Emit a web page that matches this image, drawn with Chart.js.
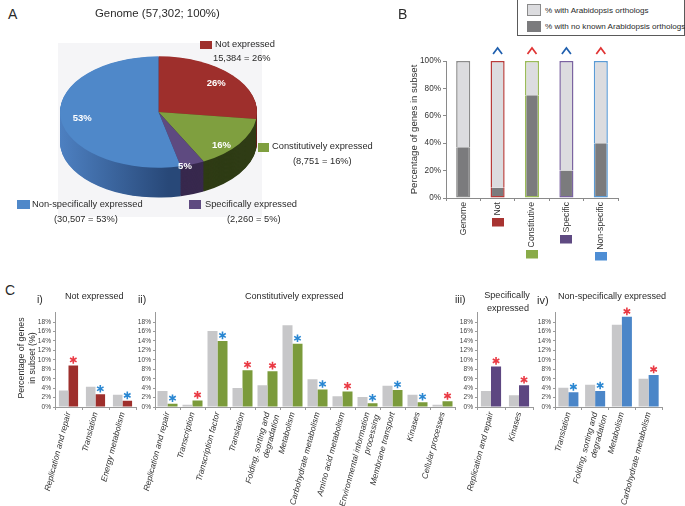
<!DOCTYPE html>
<html><head><meta charset="utf-8">
<script src="https://cdn.jsdelivr.net/npm/chart.js@4.4.1/dist/chart.umd.min.js"></script>
<style>
html,body{margin:0;padding:0;background:#fff;}
#root{position:relative;width:685px;height:506px;overflow:hidden;font-family:"Liberation Sans",Arial,sans-serif;color:#2a2a2a;}
.t{position:absolute;white-space:nowrap;line-height:1;z-index:3;}
.sw{position:absolute;z-index:3;box-sizing:border-box;}
canvas{position:absolute;z-index:1;}
</style></head><body><div id="root"></div>
<script>
// ---------------- DATA ----------------
// Panel A (pie)
const pieLabels = ['Not expressed','Constitutively expressed','Specifically expressed','Non-specifically expressed'];
const pieCounts = [15384, 8751, 2260, 30507];
const pieInnerLabels = ['26%','16%','5%','53%'];

// Panel B (stacked %)
const bCategories = ['Genome','Not','Constitutive','Specific','Non-specific'];
const bNoOrtholog = [37, 7.5, 75, 20, 40];
const bWithOrtholog = [63, 92.5, 25, 80, 60];
const bSig = [null, 'down', 'up', 'down', 'up'];

// Panel C i) Not expressed
const c1Categories = ['Replication and repair','Translation','Energy metabolism'];
const c1Genome = [3.5, 4.3, 2.6];
const c1Subset = [8.8, 2.7, 1.3];
const c1Sig = ['up','down','down'];

// Panel C ii) Constitutively expressed
const c2Categories = ['Replication and repair','Transcription','Transcription factor','Translation',['Folding, sorting and','degradation'],'Metabolism','Carbohydrate metabolism','Amino acid metabolism',['Environmental information','processing'],'Membrane transport','Kinases','Cellular processes'];
const c2Genome = [3.4, 0.5, 16.1, 4.0, 4.6, 17.3, 5.9, 2.3, 2.1, 4.5, 2.6, 0.5];
const c2Subset = [0.7, 1.4, 14.0, 7.8, 7.6, 13.4, 3.7, 3.3, 0.8, 3.6, 1.0, 1.2];
const c2Sig = ['down','up','down','up','up','down','down','up','down','down','down','up'];

// Panel C iii) Specifically expressed
const c3Categories = ['Replication and repair','Kinases'];
const c3Genome = [3.4, 2.5];
const c3Subset = [8.6, 4.6];
const c3Sig = ['up','up'];

// Panel C iv) Non-specifically expressed
const c4Categories = ['Translation',['Folding, sorting and','degradation'],'Metabolism','Carbohydrate metabolism'];
const c4Genome = [4.1, 4.7, 17.4, 6.0];
const c4Subset = [3.1, 3.4, 19.1, 6.8];
const c4Sig = ['down','down','up','up'];

const cTickMax = 20, cTickStep = 2;

// ---------------- STYLE ----------------
const FONT = '"Liberation Sans", Arial, sans-serif';
const RED_SIG = '#ea3a44', BLUE_SIG = '#2a87d2';
const COL_NOT = '#9e2f2c', COL_CON = '#7b9b3b', COL_SPE = '#5d4681', COL_NON = '#4b86c8';
const GREY_BAR = '#c7c7c9';

Chart.defaults.font.family = FONT;
Chart.defaults.animation = false;
Chart.defaults.responsive = false;
Chart.defaults.devicePixelRatio = 1;
Chart.defaults.events = [];
Chart.defaults.plugins.legend.display = false;
Chart.defaults.plugins.tooltip.enabled = false;

const root = document.getElementById('root');
function makeCanvas(left, top, w, h){
  const c = document.createElement('canvas');
  c.width = w; c.height = h;
  c.style.left = left+'px'; c.style.top = top+'px';
  c.style.width = w+'px'; c.style.height = h+'px';
  root.appendChild(c); return c;
}
function txt(s, x, yc, size, o={}){
  const d = document.createElement('div'); d.className='t'; d.textContent = s;
  d.style.fontSize = size+'px'; d.style.top = (yc - size/2)+'px'; d.style.left = x+'px';
  if (o.center) d.style.transform = 'translateX(-50%)';
  if (o.color) d.style.color = o.color;
  root.appendChild(d); return d;
}
function vtxt(s, xc, yc, size){
  const d = document.createElement('div'); d.className='t'; d.textContent = s;
  d.style.fontSize = size+'px'; d.style.left = xc+'px'; d.style.top = yc+'px';
  d.style.transform = 'translate(-50%,-50%) rotate(-90deg)';
  root.appendChild(d); return d;
}
function box(x,y,w,h,bg,border){
  const d = document.createElement('div'); d.className='sw';
  Object.assign(d.style,{left:x+'px',top:y+'px',width:w+'px',height:h+'px',background:bg});
  if (border) d.style.border = border;
  root.appendChild(d); return d;
}

// ---------------- PANEL A ----------------
box(58, 43, 204, 174, '#f5f5f7').style.zIndex = 0;
const PIE_SQUASH = 0.565, PIE_DEPTH = 30;
const pieColors = [COL_NOT, '#7f9f3f', '#5e4a80', '#4f88c9'];
const pieSideColors = ['#6a1f1d', '#2f3c15', '#38294e', null];
const pie3d = {
  id: 'pie3d',
  beforeDatasetsDraw(chart){
    const ctx = chart.ctx, meta = chart.getDatasetMeta(0);
    const a0 = meta.data[0], cx = a0.x, cy = a0.y, R = a0.outerRadius;
    ctx.save();
    ctx.translate(cx, cy); ctx.scale(1, PIE_SQUASH); ctx.translate(-cx, -cy);
    const blueGrad = ctx.createLinearGradient(cx - R, 0, cx + R*0.1, 0);
    blueGrad.addColorStop(0, '#4d80c1'); blueGrad.addColorStop(1, '#284878');
    const depth = Math.round(PIE_DEPTH / PIE_SQUASH);
    for (let k = depth; k >= 1; k--) {
      meta.data.forEach((arc, i) => {
        ctx.beginPath();
        ctx.moveTo(cx, cy + k);
        ctx.arc(cx, cy + k, arc.outerRadius, arc.startAngle, arc.endAngle);
        ctx.closePath();
        ctx.fillStyle = pieSideColors[i] || blueGrad;
        ctx.fill();
      });
    }
  },
  afterDatasetsDraw(chart){
    const ctx = chart.ctx; ctx.restore();
    const meta = chart.getDatasetMeta(0);
    ctx.save();
    ctx.fillStyle = '#ffffff'; ctx.font = 'bold 9.5px ' + FONT;
    ctx.textAlign = 'center'; ctx.textBaseline = 'middle';
    meta.data.forEach((arc, i) => {
      const mid = (arc.startAngle + arc.endAngle)/2, r = arc.outerRadius*0.78;
      const persp = PIE_DEPTH * 0.5 * Math.max(0, Math.sin(mid));
      ctx.fillText(pieInnerLabels[i], arc.x + Math.cos(mid)*r, arc.y + Math.sin(mid)*r*PIE_SQUASH + persp);
    });
    ctx.restore();
  }
};
new Chart(makeCanvas(40, 0, 240, 240), {
  type: 'pie',
  data: { labels: pieLabels, datasets: [{ data: pieCounts, backgroundColor: pieColors, borderWidth: 0 }] },
  options: {
    animation: false,
    animations: false,
    layout: { padding: { left: 20, right: 23, top: 13.5, bottom: 29.5 } }
  },
  plugins: [pie3d]
});

txt('A', 8, 14, 14);
txt('Genome (57,302; 100%)', 95, 14, 11.4);
box(200, 41, 12, 8, COL_NOT);
txt('Not expressed', 215, 45, 9.3);
txt('15,384 = 26%', 213, 58.5, 9.3);
box(258, 143, 11, 9, '#7f9f3f');
txt('Constitutively expressed', 272, 147, 9.3);
txt('(8,751 = 16%)', 293, 162, 9.3);
box(17, 200, 13, 9, '#4f88c9');
txt('Non-specifically expressed', 32, 205, 9.3);
txt('(30,507 = 53%)', 54, 219.5, 9.3);
box(189, 200, 12, 9, '#5e4a80');
txt('Specifically expressed', 205, 205, 9.3);
txt('(2,260 = 5%)', 227, 219.5, 9.3);

// ---------------- PANEL B ----------------
txt('B', 398, 14, 14);
box(517, -1, 168, 37, '#fff', '1px solid #5a5a5a');
box(527, 4, 14, 12, '#dcdcdf', '1px solid #8a8a8a');
box(527, 21, 14, 11, '#7b7b7d');
txt('% with Arabidopsis orthologs', 545, 11, 8.1);
txt('% with no known Arabidopsis orthologs', 545, 27, 8.1);

const bBorder = ['#8c8c8c', '#b83c3a', '#9bbb59', '#7b64a1', '#5b9bd5'];
const bSwatch = [null, '#a83331', '#89ab48', '#5f4a82', '#4d8dd4'];
const B_LABEL_SIZE = 8.7;
const caretPlugin = {
  id: 'caret',
  afterDatasetsDraw(chart){
    const ctx = chart.ctx, meta = chart.getDatasetMeta(1);
    bSig.forEach((s, i) => {
      if (!s) return;
      const b = meta.data[i];
      ctx.save();
      ctx.strokeStyle = s === 'up' ? '#e03434' : '#1f5fae';
      ctx.lineWidth = 1.7;
      ctx.beginPath();
      ctx.moveTo(b.x - 4.5, b.y - 7); ctx.lineTo(b.x, b.y - 13); ctx.lineTo(b.x + 4.5, b.y - 7);
      ctx.stroke(); ctx.restore();
    });
  },
  afterDraw(chart){
    const ctx = chart.ctx, sx = chart.scales.x;
    ctx.save();
    ctx.font = B_LABEL_SIZE + 'px ' + FONT;
    bCategories.forEach((c, i) => {
      if (!bSwatch[i]) return;
      const x = sx.getPixelForValue(i);
      const w = ctx.measureText(c).width;
      const y = sx.top + 4 + w + 2.5;
      ctx.fillStyle = bSwatch[i];
      ctx.fillRect(Math.round(x - 6), Math.round(y), 12, 8.5);
    });
    ctx.restore();
  }
};
new Chart(makeCanvas(405, 40, 217, 235), {
  type: 'bar',
  data: { labels: bCategories, datasets: [
    { data: bNoOrtholog, backgroundColor: '#7b7b7d', borderColor: bBorder,
      borderWidth: { left: 1.5, right: 1.5, bottom: 1.5, top: 0 }, borderSkipped: false,
      stack: 's', barPercentage: 0.41, categoryPercentage: 1 },
    { data: bWithOrtholog, backgroundColor: '#dcdcdf', borderColor: bBorder,
      borderWidth: { left: 1.5, right: 1.5, top: 1.5, bottom: 0 }, borderSkipped: false,
      stack: 's', barPercentage: 0.41, categoryPercentage: 1 }
  ]},
  options: {
    layout: { padding: { top: 21, right: 4, left: 0, bottom: 0 } },
    scales: {
      x: { stacked: true,
        grid: { display: true, drawOnChartArea: false, offset: true, tickLength: 3, color: '#8a8a8a' },
        border: { color: '#8a8a8a' },
        ticks: { autoSkip: false, minRotation: 90, maxRotation: 90, padding: 1, color: '#333', font: { size: B_LABEL_SIZE } },
        afterFit(s){ s.height = 77; } },
      y: { stacked: true, min: 0, max: 100,
        ticks: { stepSize: 20, callback: v => v + '%', color: '#333', font: { size: 8.2 }, padding: 2 },
        grid: { display: true, drawOnChartArea: false, tickLength: 3, color: '#8a8a8a' },
        border: { color: '#8a8a8a' },
        title: { display: true, text: 'Percentage of genes in subset', color: '#333', font: { size: 9.6 }, padding: { top: 4, bottom: 0 } },
        afterFit(s){ s.width = 41; } }
    }
  },
  plugins: [caretPlugin]
});

// ---------------- PANEL C ----------------
txt('C', 5, 290, 14);
txt('i)', 37, 299, 10.5);
txt('Not expressed', 65, 297, 9.1);
txt('ii)', 138, 299, 10.5);
txt('Constitutively expressed', 245, 297, 9.1);
txt('iii)', 455, 299, 10.5);
txt('Specifically', 507, 295.5, 9.1, { center: true });
txt('expressed', 508, 309, 9.1, { center: true });
txt('iv)', 537, 300, 11);
txt('Non-specifically expressed', 558, 296.5, 9.1);
vtxt('Percentage of genes', 21, 358, 8.8);
vtxt('in subset (%)', 32, 358, 8.8);

function drawStar(ctx, x, y, r, color){
  ctx.save(); ctx.strokeStyle = color; ctx.lineWidth = 1.6;
  ctx.beginPath();
  for (const a of [90, 30, 150]) {
    const rad = a*Math.PI/180, dx = Math.cos(rad)*r, dy = Math.sin(rad)*r;
    ctx.moveTo(x - dx, y - dy); ctx.lineTo(x + dx, y + dy);
  }
  ctx.stroke(); ctx.restore();
}

function cPanel(left, width, cats, genome, subset, sig, color, catPct){
  const sigPlugin = {
    id: 'sig',
    afterDatasetsDraw(chart){
      const ctx = chart.ctx, meta = chart.getDatasetMeta(1);
      sig.forEach((s, i) => {
        if (!s) return;
        const b = meta.data[i];
        drawStar(ctx, b.x, b.y - 5.5, 3.8, s === 'up' ? RED_SIG : BLUE_SIG);
      });
    }
  };
  new Chart(makeCanvas(left, 300, width, 206), {
    type: 'bar',
    data: { labels: cats, datasets: [
      { data: genome, backgroundColor: GREY_BAR, barPercentage: 1, categoryPercentage: catPct },
      { data: subset, backgroundColor: color, barPercentage: 1, categoryPercentage: catPct }
    ]},
    options: {
      layout: { padding: { top: 12.6, right: 2, left: 0, bottom: 0 } },
      scales: {
        x: {
          grid: { display: true, drawOnChartArea: false, offset: true, tickLength: 3, color: '#9a9a9a' },
          border: { color: '#9a9a9a' },
          ticks: { autoSkip: false, minRotation: 75, maxRotation: 75, padding: 1, color: '#333', font: { size: 8.4, style: 'italic' } },
          afterFit(s){ s.height = 99; } },
        y: { min: 0, max: cTickMax,
          afterBuildTicks(s){ s.ticks = s.ticks.filter(t => t.value < cTickMax); },
          ticks: { autoSkip: false, stepSize: cTickStep, callback: v => v + '%', color: '#444', font: { size: 6.6 }, padding: 2 },
          grid: { display: true, drawOnChartArea: false, tickLength: 2, color: '#9a9a9a' },
          border: { color: '#9a9a9a' },
          afterFit(s){ s.width = 32; } }
      }
    },
    plugins: [sigPlugin]
  });
}
cPanel(23, 115, c1Categories, c1Genome, c1Subset, c1Sig, COL_NOT, 0.71);
cPanel(123, 334, c2Categories, c2Genome, c2Subset, c2Sig, COL_CON, 0.8);
cPanel(445, 90, c3Categories, c3Genome, c3Subset, c3Sig, COL_SPE, 0.72);
cPanel(523, 141, c4Categories, c4Genome, c4Subset, c4Sig, COL_NON, 0.75);
</script></body></html>
